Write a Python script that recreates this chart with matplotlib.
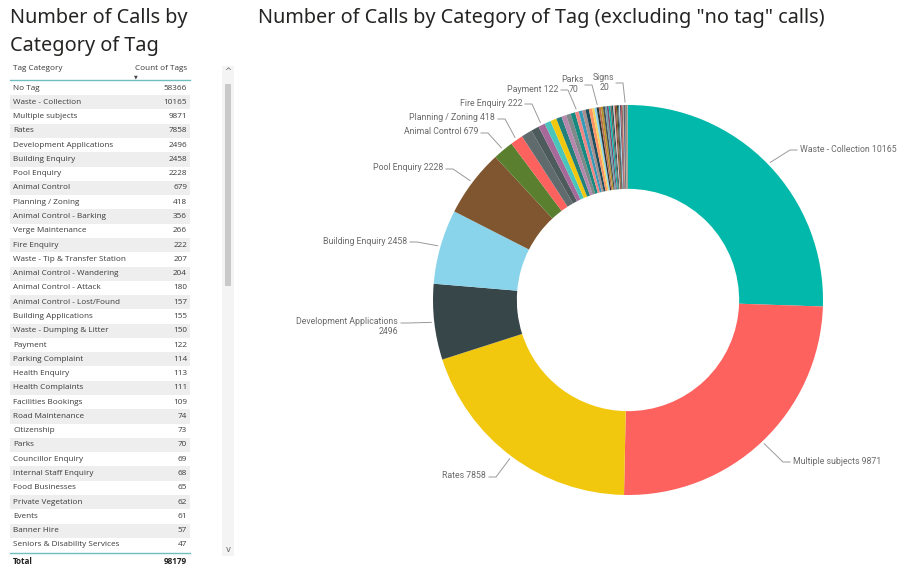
import matplotlib
matplotlib.use('Agg')
import matplotlib.pyplot as plt
from matplotlib.patches import Rectangle
import numpy as np

# ------------------------------------
# Data: tag categories and their counts
# ------------------------------------
tag_categories = ['No Tag', 'Waste - Collection', 'Multiple subjects', 'Rates',
                  'Development Applications', 'Building Enquiry', 'Pool Enquiry',
                  'Animal Control', 'Planning / Zoning', 'Animal Control - Barking',
                  'Verge Maintenance', 'Fire Enquiry', 'Waste - Tip & Transfer Station',
                  'Animal Control - Wandering', 'Animal Control - Attack',
                  'Animal Control - Lost/Found', 'Building Applications',
                  'Waste - Dumping & Litter', 'Payment', 'Parking Complaint',
                  'Health Enquiry', 'Health Complaints', 'Facilities Bookings',
                  'Road Maintenance', 'Citizenship', 'Parks', 'Councillor Enquiry',
                  'Internal Staff Enquiry', 'Food Businesses', 'Private Vegetation',
                  'Events', 'Banner Hire', 'Seniors & Disability Services']
tag_counts = [58366, 10165, 9871, 7858, 2496, 2458, 2228, 679, 418, 356,
              266, 222, 207, 204, 180, 157, 155, 150, 122, 114,
              113, 111, 109, 74, 73, 70, 69, 68, 65, 62,
              61, 57, 47]
total_tags = 98179

# smaller categories further down the list (scrolled out of the table)
tail_categories = ['other'] * 13 + ['Signs'] + ['other'] * 9
tail_counts = [45, 44, 40, 38, 36, 34, 31, 30, 28, 27, 25, 23, 22, 20,
               18, 15, 13, 11, 9, 7, 5, 4, 3]

# donut excludes the "No Tag" calls
donut_categories = tag_categories[1:] + tail_categories
donut_counts = tag_counts[1:] + tail_counts

slice_colors = ['#01B8AA', '#FD625E', '#F2C80F', '#374649', '#8AD4EB', '#7F5630',
                '#5A7F2F', '#FD625E', '#5F6B6D', '#4E5B5D', '#A66999', '#4AC5BB',
                '#F2C80F', '#237F7A', '#B687AC', '#7F898A', '#168980', '#F08784',
                '#3599B8', '#A78F8F', '#1B4D5C', '#FE9666', '#F4D25A', '#8AD4EB',
                '#293537', '#BD7150', '#B59525', '#475052', '#6A9FB0', '#7B4F71',
                '#01B8AA', '#706060', '#0F5C55', '#DFBFBF', '#7D3231', '#796419',
                '#303637', '#476A75', '#A4DDEE', '#52354C', '#BB4A4A', '#544848',
                '#FDAB89', '#28738A', '#1C2325', '#A66999', '#5F6B6D', '#F4D25A',
                '#0D262E', '#7E4B36', '#B687AC', '#4AC5BB', '#374649', '#FB8281',
                '#8AD4EB']

# label anchor (x, y of text edge in pixels), alignment
label_layout = {
    'Waste - Collection': (800, 149, 'left'),
    'Multiple subjects': (793, 461, 'left'),
    'Rates': (486, 476, 'right'),
    'Development Applications': (398, 322, 'right'),
    'Building Enquiry': (407, 241, 'right'),
    'Pool Enquiry': (443, 168, 'right'),
    'Animal Control': (478, 132, 'right'),
    'Planning / Zoning': (495, 118, 'right'),
    'Fire Enquiry': (522, 103, 'right'),
    'Payment': (558, 89, 'right'),
    'Parks': (582, 84, 'right'),
    'Signs': (613, 82, 'right'),
}

W, H = 899, 570
fig = plt.figure(figsize=(W / 100, H / 100), dpi=100)
ax = fig.add_axes([0, 0, 1, 1])

title_font = 'Noto Sans'
table_font = 'Open Sans'
label_font = 'Roboto'

# ------------------------------------
# Donut
# ------------------------------------
cx, cy, R = 628, 300, 195
colors = [slice_colors[i % len(slice_colors)] for i in range(len(donut_counts))]
wedges, _ = ax.pie(donut_counts, colors=colors, center=(cx, cy), radius=R,
                   startangle=-90, counterclock=True,
                   wedgeprops=dict(width=R * 0.43, linewidth=0))

label_color = '#6b6b6b'
line_color = '#9a9a9a'
for name, (tx, ty, ha) in label_layout.items():
    i = donut_categories.index(name)
    w = wedges[i]
    mid = np.deg2rad((w.theta1 + w.theta2) / 2)
    px = cx + (R + 3) * np.cos(mid)
    py = cy + (R + 3) * np.sin(mid)
    value = donut_counts[i]
    if name == 'Development Applications':
        ax.text(tx, ty, name, ha='right', va='center', fontsize=6.3,
                family=label_font, color=label_color)
        ax.text(tx, ty + 9, str(value), ha='right', va='center', fontsize=6.3,
                family=label_font, color=label_color)
    elif name in ('Parks', 'Signs'):
        ax.text(tx - 10, ty - 5, name, ha='center', va='center', fontsize=6.3,
                family=label_font, color=label_color)
        ax.text(tx - 4, ty + 5, str(value), ha='right', va='center', fontsize=6.3,
                family=label_font, color=label_color)
    else:
        ax.text(tx, ty, name + ' ' + str(value), ha=ha, va='center', fontsize=6.3,
                family=label_font, color=label_color)
    # leader line: horizontal stub next to the text, then down to the slice
    if ha == 'left':
        xs = [px, tx - 10, tx - 3]
    else:
        xs = [px, tx + 10, tx + 3]
    ys = [py, ty + 1, ty + 1]
    ax.plot(xs, ys, color=line_color, linewidth=0.7)

# ------------------------------------
# Titles
# ------------------------------------
ax.text(10, 18, 'Number of Calls by', fontsize=14.3, family=title_font,
        color='#252423', va='center', ha='left')
ax.text(10, 46, 'Category of Tag', fontsize=14.3, family=title_font,
        color='#252423', va='center', ha='left')
ax.text(258, 18, 'Number of Calls by Category of Tag (excluding "no tag" calls)',
        fontsize=14.3, family=title_font, color='#252423', va='center', ha='left')

# ------------------------------------
# Table
# ------------------------------------
x0, x1 = 10, 190
row0, row_h = 88, 14.28
text_color = '#3a3a3a'
fs = 5.9
ax.text(13, 69, 'Tag Category', fontsize=fs, family=table_font,
        color=text_color, va='center', ha='left')
ax.text(187, 69, 'Count of Tags', fontsize=fs, family=table_font,
        color=text_color, va='center', ha='right')
ax.text(136, 76.5, '▼', fontsize=3.5, color='#444444', va='center', ha='center')
ax.plot([x0, x1], [80, 80], color='#6fbfbf', linewidth=1.0)

for i, (name, count) in enumerate(zip(tag_categories, tag_counts)):
    y = row0 + i * row_h
    if i % 2 == 1:
        ax.add_patch(Rectangle((x0, y - row_h / 2), x1 - x0, row_h,
                               facecolor='#eeeeee', edgecolor='none'))
    ax.text(13, y, name, fontsize=fs, family=table_font, color=text_color,
            va='center', ha='left')
    ax.text(187, y, str(count), fontsize=fs, family=table_font, color=text_color,
            va='center', ha='right')

ax.plot([x0, x1], [553, 553], color='#6fbfbf', linewidth=1.0)
ax.text(13, 562, 'Total', fontsize=fs, family=table_font, color='#222222',
        va='center', ha='left', fontweight='bold')
ax.text(187, 562, str(total_tags), fontsize=fs, family=table_font, color='#222222',
        va='center', ha='right', fontweight='bold')

# scroll bar
ax.add_patch(Rectangle((222, 66), 12, 490, facecolor='#f4f4f4', edgecolor='none'))
ax.add_patch(Rectangle((225, 84), 6, 202, facecolor='#c9c9c9', edgecolor='none'))
ax.text(228, 72, '^', fontsize=6, color='#666666', va='center', ha='center')
ax.text(228, 549, 'v', fontsize=6, color='#666666', va='center', ha='center')

ax.set_xlim(0, W)
ax.set_ylim(H, 0)
ax.set_aspect('auto')
ax.axis('off')

fig.savefig('out.png', dpi=100)
